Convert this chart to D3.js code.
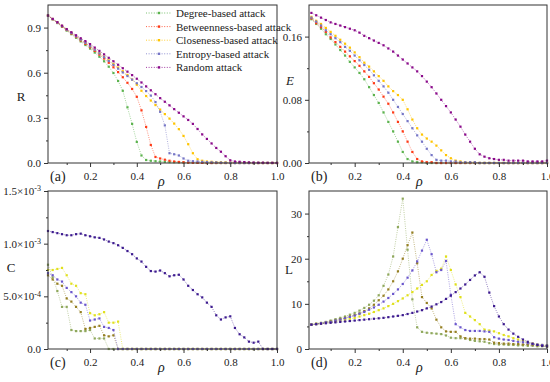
<!DOCTYPE html>
<html>
<head>
<meta charset="utf-8">
<script src="https://cdn.jsdelivr.net/npm/d3@7/dist/d3.min.js"></script>
<style>
  body { margin: 0; background: #fff; }
  svg text { font-family: "Liberation Serif", "Times New Roman", serif; }
</style>
</head>
<body>
<div id="vis"></div>
<script>

// ρ values (fraction of removed nodes)
var rho = [0.02,0.04,0.06,0.08,0.10,0.12,0.14,0.16,0.18,0.20,0.22,0.24,0.26,0.28,0.30,0.32,0.34,0.36,0.38,0.40,
           0.42,0.44,0.46,0.48,0.50,0.52,0.54,0.56,0.58,0.60,0.62,0.64,0.66,0.68,0.70,0.72,0.74,0.76,0.78,0.80,
           0.82,0.84,0.86,0.88,0.90,0.92,0.94,0.96,0.98,1.00];

var attacks = ['Degree-based attack', 'Betweenness-based attack', 'Closeness-based attack', 'Entropy-based attack', 'Random attack'];

// (a) R
var R_degree = [.980,.955,.930,.905,.880,.856,.832,.808,.784,.760,.734,.706,.676,.640,.598,.545,.480,.370,.260,.140,
                .050,.020,.015,.012,.010,.008,.006,.005,.004,.003,.002,.002,.001,.001,0,0,0,0,0,0,
                0,0,0,0,0,0,0,0,0,0];
var R_betweenness = [.980,.956,.932,.908,.884,.861,.838,.815,.792,.769,.745,.720,.694,.666,.636,.604,.570,.533,.492,.440,
                     .350,.240,.120,.040,.030,.022,.015,.010,.007,.005,.003,.002,.001,.001,0,0,0,0,0,0,
                     0,0,0,0,0,0,0,0,0,0];
var R_closeness = [.980,.957,.934,.911,.888,.865,.843,.821,.799,.777,.753,.730,.706,.682,.658,.634,.610,.585,.555,.520,
                   .480,.445,.415,.385,.355,.325,.295,.262,.225,.180,.125,.065,.025,.015,.010,.008,.006,.005,.004,.003,
                   .002,.002,.001,.001,0,0,0,0,0,0];
var R_entropy = [.980,.956,.933,.910,.886,.864,.842,.820,.798,.776,.752,.728,.703,.678,.652,.627,.602,.578,.554,.530,
                 .505,.478,.448,.405,.340,.250,.065,.058,.050,.030,.015,.012,.010,.008,.006,.005,.004,.003,.002,.001,
                 0,0,0,0,0,0,0,0,0,0];
var R_random = [.980,.958,.936,.913,.890,.869,.849,.829,.810,.790,.767,.745,.722,.699,.676,.653,.630,.607,.584,.560,
                .535,.509,.483,.457,.431,.407,.383,.358,.334,.310,.286,.260,.226,.190,.160,.130,.100,.075,.045,.018,
                .010,.008,.006,.004,.003,.002,.002,.001,.001,0];

// (b) E
var E_degree = [.182,.176,.170,.163,.157,.150,.143,.136,.128,.121,.114,.106,.096,.086,.076,.064,.052,.040,.027,.014,
                .005,.002,.001,.001,0,0,0,0,0,0,0,0,0,0,0,0,0,0,0,0,
                0,0,0,0,0,0,0,0,0,0];
var E_betweenness = [.183,.177,.172,.166,.159,.153,.147,.141,.135,.129,.123,.116,.109,.101,.093,.084,.075,.064,.052,.040,
                     .027,.014,.005,.002,.001,.001,0,0,0,0,0,0,0,0,0,0,0,0,0,0,
                     0,0,0,0,0,0,0,0,0,0];
var E_closeness = [.185,.180,.176,.171,.166,.161,.156,.151,.146,.140,.134,.127,.122,.116,.110,.104,.097,.091,.086,.080,
                   .068,.055,.044,.036,.031,.027,.022,.016,.010,.006,.003,.002,.001,.001,.001,0,0,0,0,0,
                   0,0,0,0,0,0,0,0,0,0];
var E_entropy = [.184,.179,.174,.168,.163,.158,.153,.147,.142,.136,.130,.124,.118,.111,.104,.097,.089,.080,.071,.062,
                 .053,.044,.035,.027,.018,.010,.004,.003,.003,.002,.002,.001,.001,.001,.001,0,0,0,0,0,
                 0,0,0,0,0,0,0,0,0,0];
var E_random = [.190,.187,.184,.181,.178,.176,.174,.172,.170,.168,.165,.161,.158,.155,.152,.149,.145,.141,.136,.131,
                .126,.121,.116,.110,.103,.096,.088,.080,.072,.064,.055,.046,.036,.027,.018,.011,.008,.006,.005,.004,
                .004,.003,.003,.003,.003,.002,.002,.002,.002,.003];

// (c) C, in units of 1e-3
var C_degree = [.80,.68,.55,.40,.40,.18,.17,.17,.17,.18,.10,.10,.10,0,0,0,0,0,0,0,
                0,0,0,0,0,0,0,0,0,0,0,0,0,0,0,0,0,0,0,0,
                0,0,0,0,0,0,0,0,0,0];
var C_betweenness = [.70,.66,.62,.60,.48,.45,.40,.35,.19,.20,.21,.22,.13,.12,.13,0,0,0,0,0,
                     0,0,0,0,0,0,0,0,0,0,0,0,0,0,0,0,0,0,0,0,
                     0,0,0,0,0,0,0,0,0,0];
var C_closeness = [.75,.75,.76,.77,.70,.62,.60,.53,.52,.34,.32,.33,.35,.25,.25,.26,0,0,0,0,
                   0,0,0,0,0,0,0,0,0,0,0,0,0,0,0,0,0,0,0,0,
                   0,0,0,0,0,0,0,0,0,0];
var C_entropy = [.72,.70,.66,.64,.58,.54,.50,.44,.42,.27,.28,.29,.21,.20,.18,0,0,0,0,0,
                 0,0,0,0,0,0,0,0,0,0,0,0,0,0,0,0,0,0,0,0,
                 0,0,0,0,0,0,0,0,0,0];
var C_random = [1.12,1.11,1.10,1.09,1.08,1.08,1.09,1.095,1.08,1.07,1.06,1.055,1.04,1.02,1.005,.985,.96,.93,.90,.86,
                .83,.78,.74,.735,.745,.72,.69,.70,.705,.66,.60,.56,.52,.49,.44,.40,.32,.28,.30,.31,
                .20,.14,.11,.07,.06,.07,0,0,0,0];

// (d) L
var L_degree = [5.4,5.6,5.8,6.0,6.3,6.6,6.9,7.2,7.6,8.0,8.5,9.1,9.8,10.7,11.9,14.0,16.5,20.5,27.0,33.3,
                22.0,11.0,4.8,3.8,3.6,3.5,3.4,3.3,3.0,2.5,2.4,2.4,2.3,2.0,1.8,1.7,1.6,1.3,1.1,1.0,
                1.0,0.9,0.9,0.8,0.8,0.7,0.7,0.6,0.6,0.5];
var L_betweenness = [5.4,5.6,5.7,5.9,6.1,6.3,6.6,6.9,7.2,7.5,7.9,8.4,9.0,9.8,10.8,11.8,13.2,15.0,17.2,20.0,
                     23.0,25.8,19.0,11.5,10.2,9.0,6.5,4.8,3.9,3.8,3.8,2.8,2.4,2.3,2.3,2.2,2.2,2.1,1.4,1.3,
                     1.2,1.2,1.1,1.1,1.0,1.0,0.9,0.8,0.7,0.6];
var L_closeness = [5.4,5.5,5.6,5.8,5.9,6.1,6.3,6.5,6.7,6.9,7.2,7.5,7.8,8.2,8.6,9.0,9.5,10.0,10.6,11.2,
                   11.9,12.6,13.4,14.2,15.0,16.4,17.3,17.8,20.5,17.5,14.3,11.5,8.0,7.2,6.4,5.5,4.3,4.1,3.9,3.5,
                   3.1,2.8,2.4,2.1,1.8,1.4,1.2,1.0,0.9,0.8];
var L_entropy = [5.4,5.5,5.7,5.9,6.0,6.3,6.5,6.8,7.1,7.4,7.8,8.2,8.7,9.2,9.8,10.5,11.3,12.2,13.2,14.4,
                 15.8,17.4,19.4,21.8,24.2,21.0,17.0,17.5,19.5,12.0,5.5,4.8,4.2,4.0,4.0,4.0,3.9,3.8,2.6,2.3,
                 2.1,2.0,1.8,1.6,1.5,1.3,1.1,1.0,0.9,0.8];
var L_random = [5.4,5.5,5.6,5.7,5.8,5.9,6.0,6.1,6.2,6.3,6.4,6.5,6.6,6.7,6.8,6.9,7.05,7.2,7.35,7.5,
                7.75,8.0,8.3,8.6,9.0,9.4,9.9,10.4,11.1,11.8,12.6,13.4,14.3,15.3,16.3,17.0,16.0,12.5,9.5,7.2,
                5.5,4.3,3.4,2.7,2.1,1.6,1.2,0.9,0.7,0.6];

var colorsTop = ['#5cb34e', '#ff3a16', '#ffc400', '#7676c6', '#8a0a8a'];
var colorsBottom = ['#8fa85c', '#957f22', '#e0e01c', '#6a56cc', '#3d1b8f'];

var W = 550, H = 382;
var FONT = '"Liberation Serif", "Times New Roman", serif';

var svg = d3.select('#vis').append('svg')
    .attr('width', W)
    .attr('height', H)
    .attr('font-family', FONT);

function panel(o) {
    var x = d3.scaleLinear().domain(o.xDomain).range([o.left, o.right]);
    var y = d3.scaleLinear().domain(o.yDomain).range([o.bottom, o.top]);
    var g = svg.append('g');

    // series
    var line = d3.line()
        .x(function (d) { return x(d[0]); })
        .y(function (d) { return y(d[1]); });

    o.series.forEach(function (s, i) {
        var pts = rho.map(function (r, k) { return [r, s[k]]; });
        var c = o.colors[i];
        g.append('path')
            .attr('d', line(pts))
            .attr('fill', 'none')
            .attr('stroke', c)
            .attr('stroke-width', 0.8)
            .attr('stroke-dasharray', '1,1.3')
            .attr('opacity', 0.7);
        g.append('g').selectAll('rect')
            .data(pts)
            .enter()
            .append('rect')
            .attr('x', function (d) { return x(d[0]) - 1.1; })
            .attr('y', function (d) { return y(d[1]) - 1.1; })
            .attr('width', 2.2)
            .attr('height', 2.2)
            .attr('fill', c);
    });

    // axes
    var ax = g.append('g').attr('transform', 'translate(0,' + o.bottom + ')')
        .call(d3.axisBottom(x).tickValues([0.2, 0.4, 0.6, 0.8, 1.0]).tickSize(4).tickFormat(d3.format('.1f')));
    g.append('g').attr('transform', 'translate(0,' + o.bottom + ')')
        .call(d3.axisBottom(x).tickValues([0.1, 0.3, 0.5, 0.7, 0.9]).tickSize(2).tickFormat(''));
    var ay = g.append('g').attr('transform', 'translate(' + o.left + ',0)')
        .call(d3.axisLeft(y).tickValues(o.yTicks).tickSize(4).tickFormat(o.yFormat));
    g.append('g').attr('transform', 'translate(' + o.left + ',0)')
        .call(d3.axisLeft(y).tickValues(o.yMinor).tickSize(2).tickFormat(''));

    g.selectAll('.domain').remove();
    g.selectAll('.tick line').attr('stroke', '#333');
    g.selectAll('.tick').each(function () { d3.select(this.parentNode).attr('font-family', FONT); });
    ax.selectAll('text').attr('font-size', 11).attr('fill', '#222').attr('dy', '0.9em');
    ay.selectAll('text').attr('font-size', 11).attr('fill', '#222');

    if (o.sci) {
        ay.selectAll('.tick text').each(function (d) {
            var t = d3.select(this).text('');
            var lab = o.sci[d];
            t.append('tspan').text(lab[0]);
            if (lab[1]) {
                t.append('tspan').text(lab[1]).attr('font-size', 8).attr('dy', '-0.45em');
            }
        });
    }

    // frame
    g.append('rect')
        .attr('x', o.left)
        .attr('y', o.top)
        .attr('width', o.right - o.left)
        .attr('height', o.bottom - o.top)
        .attr('fill', 'none')
        .attr('stroke', '#333')
        .attr('stroke-width', 1);

    // labels
    g.append('text')
        .attr('x', o.left + 2)
        .attr('y', o.bottom + 18)
        .attr('font-size', 14)
        .attr('fill', '#222')
        .text(o.tag);
    g.append('text')
        .attr('x', o.rhoX)
        .attr('y', o.bottom + 23)
        .attr('font-size', 14)
        .attr('font-style', 'italic')
        .attr('fill', '#222')
        .text('ρ');
    g.append('text')
        .attr('x', o.yLabelX)
        .attr('y', o.yLabelY)
        .attr('font-size', 13)
        .attr('text-anchor', 'middle')
        .attr('font-style', o.yItalic ? 'italic' : 'normal')
        .attr('fill', '#222')
        .text(o.yLabel);

    return { x: x, y: y, g: g };
}

panel({
    left: 48, right: 277, top: 5, bottom: 163,
    xDomain: [0.02, 1.0], yDomain: [0, 1.05],
    yTicks: [0, 0.3, 0.6, 0.9], yMinor: [0.15, 0.45, 0.75], yFormat: d3.format('.1f'),
    series: [R_degree, R_betweenness, R_closeness, R_entropy, R_random],
    colors: colorsTop, tag: '(a)', yLabel: 'R', yLabelX: 21, yLabelY: 101, rhoX: 158
});

panel({
    left: 309, right: 547, top: 5, bottom: 163,
    xDomain: [0.01, 1.0], yDomain: [0, 0.2],
    yTicks: [0, 0.08, 0.16], yMinor: [0.04, 0.12], yFormat: d3.format('.2f'),
    series: [E_degree, E_betweenness, E_closeness, E_entropy, E_random],
    colors: colorsTop, tag: '(b)', yLabel: 'E', yItalic: true, yLabelX: 290, yLabelY: 85, rhoX: 416
});

panel({
    left: 48, right: 277, top: 191, bottom: 349,
    xDomain: [0.02, 1.0], yDomain: [0, 1.5],
    yTicks: [0, 0.5, 1.0, 1.5], yMinor: [0.25, 0.75, 1.25], yFormat: d3.format('.1f'),
    sci: { 0: ['0.0'], 0.5: ['5.0×10', '-4'], 1: ['1.0×10', '-3'], 1.5: ['1.5×10', '-3'] },
    series: [C_degree, C_betweenness, C_closeness, C_entropy, C_random],
    colors: colorsBottom, tag: '(c)', yLabel: 'C', yLabelX: 11, yLabelY: 272, rhoX: 158
});

panel({
    left: 309, right: 547, top: 191, bottom: 349,
    xDomain: [0.01, 1.0], yDomain: [0, 35],
    yTicks: [0, 10, 20, 30], yMinor: [5, 15, 25], yFormat: d3.format('d'),
    series: [L_degree, L_betweenness, L_closeness, L_entropy, L_random],
    colors: colorsBottom, tag: '(d)', yLabel: 'L', yLabelX: 289, yLabelY: 274, rhoX: 416
});

// legend in panel (a)
var legend = svg.append('g');
attacks.forEach(function (name, i) {
    var ly = 13 + i * 13.6;
    legend.append('line')
        .attr('x1', 146).attr('x2', 172)
        .attr('y1', ly).attr('y2', ly)
        .attr('stroke', colorsTop[i])
        .attr('stroke-width', 0.8)
        .attr('stroke-dasharray', '1,1.6');
    legend.append('rect')
        .attr('x', 159 - 1.2).attr('y', ly - 1.2)
        .attr('width', 2.4).attr('height', 2.4)
        .attr('fill', colorsTop[i]);
    legend.append('text')
        .attr('x', 176)
        .attr('y', ly + 4)
        .attr('font-size', 11)
        .attr('fill', '#222')
        .text(name);
});

</script>
</body>
</html>
